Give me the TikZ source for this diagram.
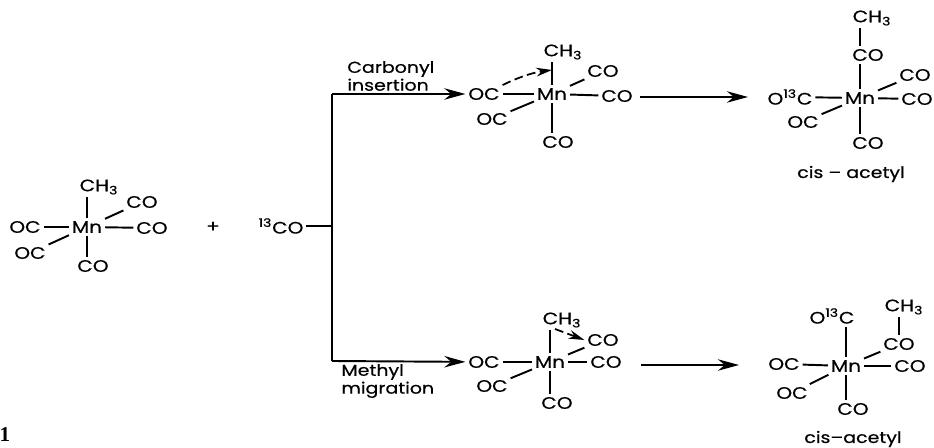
\documentclass[tikz,border=0pt]{standalone}
\usepackage{fontspec}
\setmainfont{Poppins}[FakeStretch=1.2, FakeBold=0.5]
\newfontfamily\numfont{Liberation Serif}
\usetikzlibrary{arrows.meta}
\tikzset{
	chem/.style={inner sep=1.5pt, font=\fontsize{9.5}{10}\selectfont},
	routetext/.style={inner sep=0pt, align=left, font=\fontsize{9}{7.8}\selectfont},
	bond/.style={line width=1.1pt},
	route/.style={line width=1.2pt},
	mainarrow/.style={line width=1.1pt, -{Stealth[length=12pt, width=6.5pt]}},
	pusharrow/.style={line width=1.0pt, dash pattern=on 5pt off 2.5pt, -{Stealth[length=9pt, width=5pt]}}
}

\begin{document}
\begin{tikzpicture}[x=0.02cm, y=-0.02cm]
		\useasboundingbox (0, 0) rectangle (934, 448);
		%%%%% START %%%%%
		
		% starting complex
		\node[chem] (mnS) at (87, 227) {Mn};
		\node[chem] (chS) at (99, 187) {CH\textsubscript{3}};
		\node[chem] (upS) at (142, 202) {CO};
		\node[chem] (rgS) at (152, 228) {CO};
		\node[chem] (lfS) at (25, 227) {OC};
		\node[chem] (loS) at (30, 253) {OC};
		\node[chem] (dnS) at (93, 266) {CO};
		\draw[bond] (mnS.north) -- (mnS.north |- chS.south);
		\draw[bond] (mnS) -- (upS);
		\draw[bond] (mnS) -- (rgS);
		\draw[bond] (mnS) -- (lfS);
		\draw[bond] (mnS) -- (loS);
		\draw[bond] (mnS.south) -- (mnS.south |- dnS.north);
		
		\node[chem] (plus) at (213, 227) {+};
		\node[chem] (lbl) at (281, 226) {\textsuperscript{13}CO};
		\node[routetext, font=\numfont\bfseries\fontsize{12}{12}\selectfont] (one) at (5, 435) {1};
		
		% branching lines
		\coordinate (jn) at (332, 226);
		\coordinate (tp) at (332, 94);
		\coordinate (bt) at (332, 361);
		\draw[route] (lbl) -- (jn);
		\draw[route] (tp) -- (bt);
		
		% upper route
		\node[chem] (mnA) at (552, 94) {Mn};
		\node[chem] (chA) at (563, 52) {CH\textsubscript{3}};
		\node[chem] (upA) at (603, 71) {CO};
		\node[chem] (rgA) at (617, 96) {CO};
		\node[chem] (lfA) at (484, 94) {OC};
		\node[chem] (loA) at (492, 119) {OC};
		\node[chem] (dnA) at (558, 142) {CO};
		\node[routetext, anchor=west] (insA) at (347, 76) {Carbonyl\\insertion};
		\draw[mainarrow] (tp) -- (lfA);
		\draw[bond] (mnA.north) -- (mnA.north |- chA.south);
		\draw[bond] (mnA) -- (upA);
		\draw[bond] (mnA) -- (rgA);
		\draw[bond] (mnA) -- (lfA);
		\draw[bond] (mnA) -- (loA);
		\draw[bond] (mnA.south) -- (mnA.south |- dnA.north);
		\coordinate (pushA) at (552, 70);
		\draw[pusharrow] (lfA.north east) .. controls (515, 79) and (530, 73) .. (pushA);
		
		% upper product
		\node[chem] (mnB) at (860, 98) {Mn};
		\node[chem] (chB) at (872, 18) {CH\textsubscript{3}};
		\node[chem] (acB) at (868, 55) {CO};
		\node[chem] (upB) at (915, 75) {CO};
		\node[chem] (rgB) at (917, 99) {CO};
		\node[chem] (lfB) at (790, 97) {O\textsuperscript{13}C};
		\node[chem] (loB) at (803, 122) {OC};
		\node[chem] (dnB) at (868, 143) {CO};
		\node[routetext] (cisB) at (851, 174) {cis -- acetyl};
		\coordinate (arrA) at (640, 97);
		\coordinate (arrB) at (748, 97);
		\draw[mainarrow] (arrA) -- (arrB);
		\draw[bond] (mnB.north |- acB.north) -- (mnB.north |- chB.south);
		\draw[bond] (mnB.north) -- (mnB.north |- acB.south);
		\draw[bond] (mnB) -- (upB);
		\draw[bond] (mnB) -- (rgB);
		\draw[bond] (mnB) -- (lfB);
		\draw[bond] (mnB) -- (loB);
		\draw[bond] (mnB.south) -- (mnB.south |- dnB.north);
		
		% lower route
		\node[chem] (mnC) at (550, 362) {Mn};
		\node[chem] (chC) at (562, 320) {CH\textsubscript{3}};
		\node[chem] (upC) at (603, 340) {CO};
		\node[chem] (rgC) at (606, 362) {CO};
		\node[chem] (lfC) at (484, 362) {OC};
		\node[chem] (loC) at (492, 386) {OC};
		\node[chem] (dnC) at (557, 403) {CO};
		\node[routetext, anchor=west, font=\fontsize{9}{9}\selectfont] (migC) at (341, 381) {Methyl\\migration};
		\draw[mainarrow] (bt) -- (lfC);
		\draw[bond] (mnC.north) -- (mnC.north |- chC.south);
		\draw[bond] (mnC) -- (upC);
		\draw[bond] (mnC) -- (rgC);
		\draw[bond] (mnC) -- (lfC);
		\draw[bond] (mnC) -- (loC);
		\draw[bond] (mnC.south) -- (mnC.south |- dnC.north);
		\coordinate (pushC) at (555, 329);
		\draw[pusharrow] (pushC) -- (upC.west);
		
		% lower product
		\node[chem] (mnD) at (846, 366) {Mn};
		\node[chem] (chD) at (904, 307) {CH\textsubscript{3}};
		\node[chem] (acD) at (899, 344) {CO};
		\node[chem] (rgD) at (910, 366) {CO};
		\node[chem] (lfD) at (784, 364) {OC};
		\node[chem] (loD) at (792, 393) {OC};
		\node[chem] (dnD) at (853, 409) {CO};
		\node[chem] (tpD) at (832, 316) {O\textsuperscript{13}C};
		\node[routetext] (cisD) at (853, 439) {cis--acetyl};
		\coordinate (arrC) at (641, 365);
		\coordinate (arrD) at (739, 365);
		\draw[mainarrow] (arrC) -- (arrD);
		\draw[bond] (acD.north) -- (acD.north |- chD.south);
		\draw[bond] (mnD.north) -- (mnD.north |- tpD.south);
		\draw[bond] (mnD) -- (acD);
		\draw[bond] (mnD) -- (rgD);
		\draw[bond] (mnD) -- (lfD);
		\draw[bond] (mnD) -- (loD);
		\draw[bond] (mnD.south) -- (mnD.south |- dnD.north);
		
		%%%%% END %%%%%
	\end{tikzpicture}
\end{document}
